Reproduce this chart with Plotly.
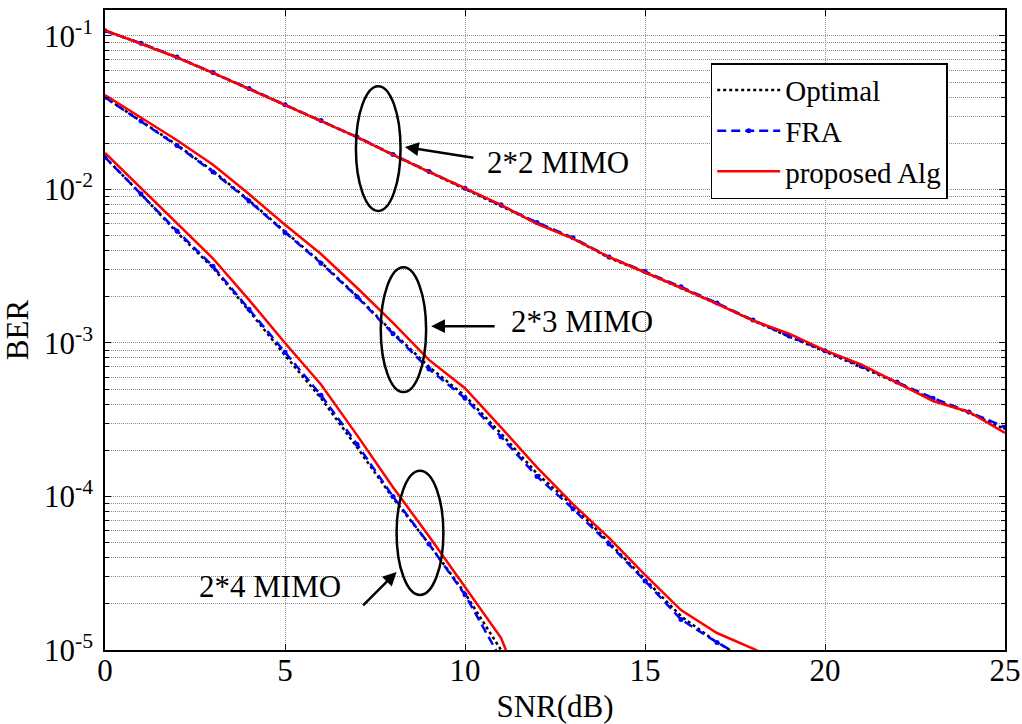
import plotly.graph_objects as go

snr = list(range(0, 26))

# BER values (per SNR in dB, 0..N)
opt_2x2 = [1.08e-1, 8.95e-2, 7.24e-2, 5.75e-2, 4.52e-2, 3.55e-2, 2.79e-2, 2.19e-2, 1.68e-2, 1.30e-2,
           1.01e-2, 7.85e-3, 6.03e-3, 4.79e-3, 3.59e-3, 2.88e-3, 2.29e-3, 1.80e-3, 1.40e-3, 1.10e-3,
           8.81e-4, 7.00e-4, 5.50e-4, 4.27e-4, 3.51e-4, 2.75e-4]
fra_2x2 = [1.08e-1, 8.95e-2, 7.28e-2, 5.78e-2, 4.55e-2, 3.56e-2, 2.81e-2, 2.20e-2, 1.69e-2, 1.31e-2,
           1.02e-2, 7.94e-3, 6.10e-3, 4.84e-3, 3.63e-3, 2.92e-3, 2.32e-3, 1.82e-3, 1.41e-3, 1.11e-3,
           8.91e-4, 7.08e-4, 5.56e-4, 4.37e-4, 3.55e-4, 2.83e-4]
prop_2x2 = [1.09e-1, 8.91e-2, 7.24e-2, 5.75e-2, 4.52e-2, 3.55e-2, 2.79e-2, 2.19e-2, 1.68e-2, 1.30e-2,
            1.02e-2, 7.94e-3, 5.96e-3, 4.79e-3, 3.63e-3, 2.89e-3, 2.29e-3, 1.80e-3, 1.40e-3, 1.15e-3,
            8.95e-4, 7.24e-4, 5.50e-4, 4.19e-4, 3.55e-4, 2.59e-4]

opt_2x3 = [3.98e-2, 2.79e-2, 1.95e-2, 1.32e-2, 8.51e-3, 5.31e-3, 3.35e-3, 2.02e-3, 1.17e-3, 7.00e-4,
           4.52e-4, 2.57e-4, 1.41e-4, 8.71e-5, 5.01e-5, 2.88e-5, 1.66e-5, 1.12e-5, 8.13e-6, 6.03e-6]
fra_2x3 = [3.98e-2, 2.79e-2, 1.93e-2, 1.30e-2, 8.41e-3, 5.25e-3, 3.31e-3, 2.00e-3, 1.15e-3, 6.76e-4,
           4.37e-4, 2.45e-4, 1.35e-4, 8.32e-5, 4.90e-5, 2.82e-5, 1.58e-5, 1.12e-5, 8.32e-6, 6.03e-6]
prop_2x3 = [4.12e-2, 2.95e-2, 2.09e-2, 1.45e-2, 9.33e-3, 5.89e-3, 3.80e-3, 2.29e-3, 1.35e-3, 7.76e-4,
            5.07e-4, 2.82e-4, 1.55e-4, 8.91e-5, 5.37e-5, 3.09e-5, 1.82e-5, 1.29e-5, 1.02e-5, 7.94e-6]

opt_2x4 = [1.62e-2, 9.33e-3, 5.25e-3, 3.09e-3, 1.62e-3, 8.32e-4, 4.37e-4, 2.09e-4, 9.77e-5, 4.90e-5,
           2.34e-5, 1.00e-5, 3.16e-6]
fra_2x4 = [1.62e-2, 9.33e-3, 5.37e-3, 3.16e-3, 1.66e-3, 8.71e-4, 4.57e-4, 2.19e-4, 1.00e-4, 4.90e-5,
           2.29e-5, 8.71e-6, 3.16e-6]
prop_2x4 = [1.73e-2, 1.02e-2, 6.03e-3, 3.55e-3, 1.91e-3, 1.00e-3, 5.37e-4, 2.51e-4, 1.15e-4, 5.50e-5,
            2.57e-5, 1.20e-5, 3.16e-6]

y_decades = [-5, -4, -3, -2, -1]
x_ticks = [0, 5, 10, 15, 20, 25]

FONT = "Liberation Serif"
FS = 31

fig = go.Figure()

groups = [
    ("Optimal", [opt_2x2, opt_2x3, opt_2x4], dict(color="black", width=2.5, dash="3px,3px"), "lines"),
    ("FRA", [fra_2x2, fra_2x3, fra_2x4], dict(color="#0000ff", width=2.5, dash="9px,5px"), "lines+markers"),
    ("proposed Alg", [prop_2x2, prop_2x3, prop_2x4], dict(color="#ff0000", width=2.5), "lines"),
]
for name, series, line, mode in groups:
    for i, vals in enumerate(series):
        fig.add_trace(go.Scatter(
            x=snr[:len(vals)], y=vals, mode=mode, name=name,
            line=line, marker=dict(size=5, color=line["color"]),
            legendgroup=name, showlegend=(i == 0),
        ))

major_vals = [10.0 ** d for d in y_decades]
major_text = [f"10<sup>{d}</sup>" for d in y_decades]
minor_vals = [m * 10.0 ** d for d in y_decades for m in range(2, 10) if m * 10.0 ** d < 0.15]

GRID = "#8a8a8a"
fig.update_layout(
    width=1022, height=724,
    margin=dict(l=105, r=17, t=10, b=74, autoexpand=False),
    paper_bgcolor="white", plot_bgcolor="white",
    font=dict(family=FONT, size=FS, color="black"),
    showlegend=True,
    legend=dict(x=0.673, y=0.917, xanchor="left", yanchor="top", itemwidth=63,
                bgcolor="white", bordercolor="black", borderwidth=1.5,
                font=dict(family=FONT, size=29), tracegroupgap=0),
    xaxis=dict(range=[0, 25], tickvals=x_ticks, showline=True, linecolor="black", linewidth=1.5,
               mirror="ticks", ticks="inside", ticklen=6, tickcolor="black",
               showgrid=True, gridcolor=GRID, griddash="1px,1px", gridwidth=1,
               zeroline=False, ticklabelstandoff=-8, automargin=False,
               title=dict(text="SNR(dB)", standoff=18, font=dict(family=FONT, size=FS))),
    yaxis=dict(type="log", range=[-5, -0.831], tickvals=major_vals, ticktext=major_text,
               showline=True, linecolor="black", linewidth=1.5,
               mirror="ticks", ticks="inside", ticklen=6, tickcolor="black",
               showgrid=True, gridcolor=GRID, griddash="1px,1px", gridwidth=1,
               zeroline=False, ticklabelstandoff=4, automargin=False,
               minor=dict(tickvals=minor_vals, ticks="inside", ticklen=4, tickcolor="black",
                          showgrid=True, gridcolor=GRID, griddash="1px,1px", gridwidth=1),
               title=dict(text="BER", standoff=13, font=dict(family=FONT, size=FS))),
)

# ellipses marking curve groups
ellipses = [(6.97, 8.21, 0.686, 0.881), (7.66, 8.92, 0.403, 0.598), (8.10, 9.40, 0.086, 0.280)]
for x0, x1, y0, y1 in ellipses:
    fig.add_shape(type="circle", xref="x", yref="paper", x0=x0, x1=x1, y0=y0, y1=y1,
                  line=dict(color="black", width=2.5))

# arrows
arrows = [(8.33, 0.786, 70, 11), (9.06, 0.506, 65, 0), (8.10, 0.122, -35, 35)]
for x, y, ax, ay in arrows:
    fig.add_annotation(x=x, y=y, xref="x", yref="paper", ax=ax, ay=ay, text="",
                       showarrow=True, arrowhead=2, arrowsize=1.1, arrowwidth=2.5,
                       arrowcolor="black", standoff=0)

labels = [("2*2 MIMO", 10.56, 0.761, "left"), ("2*3 MIMO", 11.22, 0.513, "left"),
          ("2*4 MIMO", 6.61, 0.099, "right")]
for t, x, y, xa in labels:
    fig.add_annotation(x=x, y=y, xref="x", yref="paper", text=t, showarrow=False,
                       xanchor=xa, yanchor="middle", font=dict(family=FONT, size=FS, color="black"))

fig.write_html("out.html", config={"displayModeBar": False},
               post_script="document.body.style.margin='0';document.body.style.overflow='hidden';")
